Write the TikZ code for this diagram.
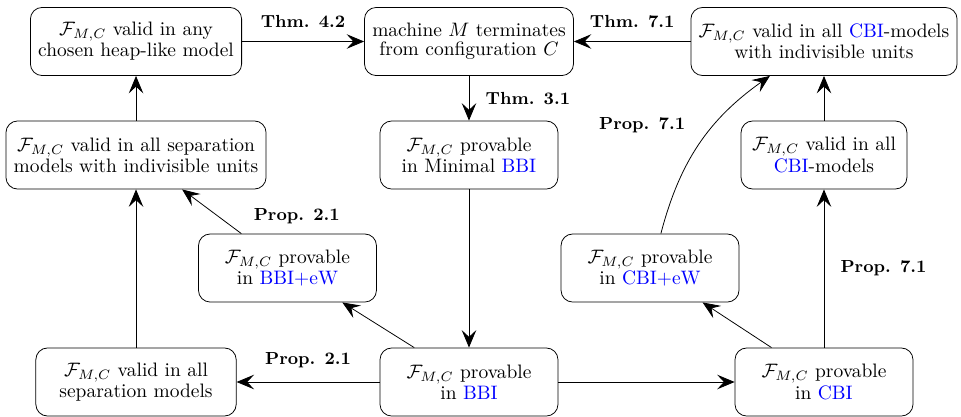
\documentclass[tikz,border=0pt]{standalone}
\usepackage{tikz}
\usetikzlibrary{arrows.meta}

\begin{document}
\begin{tikzpicture}[
%overlay,
every node/.style={font=\fontsize{10pt}{9.6pt}\selectfont},
box/.style={draw, rounded corners=6pt, align=center, minimum height=35pt, inner xsep=4pt},
prov/.style={box, minimum width=91.5pt},
lbl/.style={font=\small\bfseries},
>={Stealth[length=9pt,width=7.5pt,inset=3.5pt]}
]
\useasboundingbox (0,0) rectangle (17.366,-7.535);

\node[box] (heap) at (2.458,-0.750) {$\mathcal{F}_{M,C}$ valid in any\\chosen heap-like model};
\node[box] (term) at (8.475,-0.750) {machine $M$ terminates\\from configuration $C$};
\node[box] (cbiind) at (14.890,-0.750) {$\mathcal{F}_{M,C}$ valid in all \textcolor{blue}{CBI}-models\\with indivisible units};
\node[box] (sepind) at (2.458,-2.801) {$\mathcal{F}_{M,C}$ valid in all separation\\models with indivisible units};
\node[prov] (minbbi) at (8.475,-2.801) {$\mathcal{F}_{M,C}$ provable\\in Minimal \textcolor{blue}{BBI}};
\node[box, minimum width=85.3pt] (cbimod) at (14.890,-2.801) {$\mathcal{F}_{M,C}$ valid in all\\\textcolor{blue}{CBI}-models};
\node[prov] (bbiew) at (5.195,-4.843) {$\mathcal{F}_{M,C}$ provable\\in \textcolor{blue}{BBI+eW}};
\node[prov] (cbiew) at (11.746,-4.843) {$\mathcal{F}_{M,C}$ provable\\in \textcolor{blue}{CBI+eW}};
\node[box, minimum width=103pt] (sep) at (2.458,-6.903) {$\mathcal{F}_{M,C}$ valid in all\\separation models};
\node[prov] (bbi) at (8.475,-6.903) {$\mathcal{F}_{M,C}$ provable\\in \textcolor{blue}{BBI}};
\node[prov] (cbi) at (14.890,-6.903) {$\mathcal{F}_{M,C}$ provable\\in \textcolor{blue}{CBI}};

\foreach \i/\j in {sep/sepind, sepind/heap,%
                   minbbi/bbi, bbi/bbiew,%
                   bbi/cbi, cbi/cbiew, cbimod/cbiind%
            }
    \draw [->] (\i) -- (\j);

\draw [->] (heap) -- node[lbl, above=3.6pt] {Thm. 4.2} (term);
\draw [->] (cbiind) -- node[lbl, above=3.6pt] {Thm. 7.1} (term);
\draw [->] (term) -- node[lbl, right=5pt] {Thm. 3.1} (minbbi);
\draw [->] (bbi) -- node[lbl, above=3.6pt] {Prop. 2.1} (sep);
\draw [->] (bbiew) -- node[lbl, pos=0, anchor=south west, xshift=2.9pt, yshift=1.5pt] {Prop. 2.1} (sepind);
\draw [->] (cbi) -- node[lbl, right=5pt] {Prop. 7.1} (cbimod);
\draw [->] (cbiew) to[bend left=20] node[lbl, pos=0.5, anchor=south east, xshift=-3.9pt, yshift=2pt] {Prop. 7.1} (cbiind);

\end{tikzpicture}
\end{document}
